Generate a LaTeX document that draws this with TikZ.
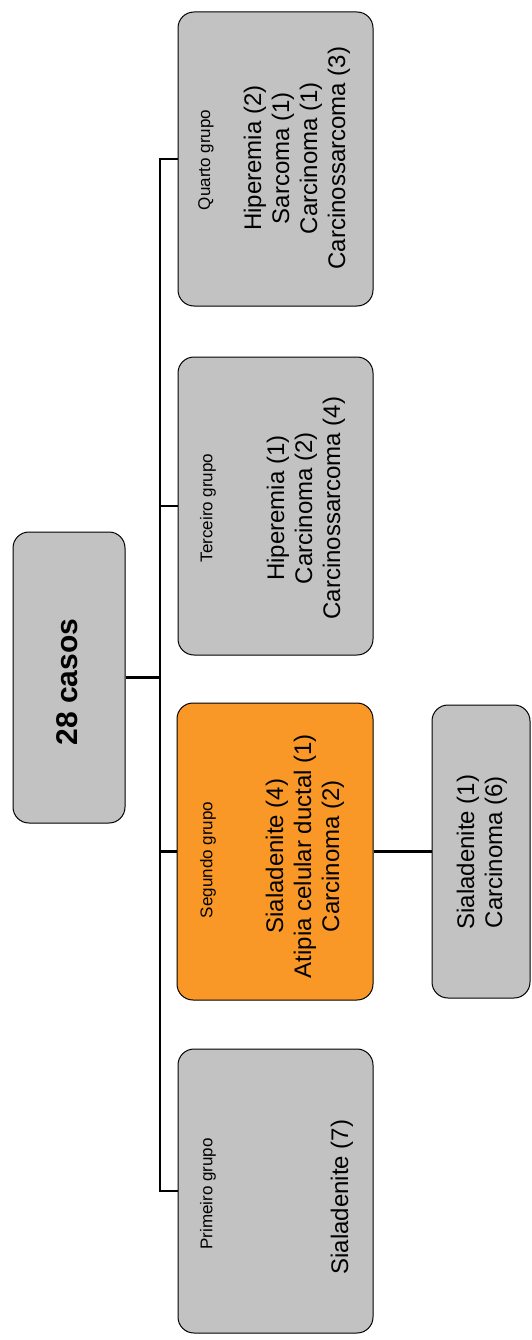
\documentclass[tikz,border=0pt]{standalone}
\usepackage{fontspec}
\setmainfont{Liberation Sans}
\definecolor{boxgray}{RGB}{194,194,194}
\definecolor{boxorange}{RGB}{249,152,38}
\tikzset{
  gbox/.style={draw=black, line width=1pt, fill=boxgray, rounded corners=16pt, inner sep=0pt},
  obox/.style={gbox, fill=boxorange},
  conn/.style={draw=black, line width=2.2pt},
  lbl/.style={rotate=90, inner sep=0pt, font=\fontsize{17}{20}\selectfont},
  mtxt/.style={rotate=90, inner sep=0pt, align=center, font=\fontsize{24}{28}\selectfont},
  ttl/.style={rotate=90, inner sep=0pt, font=\fontsize{30}{34}\selectfont\bfseries}
}
\begin{document}
\begin{tikzpicture}[x=1pt,y=-1pt]
\useasboundingbox (0,0) rectangle (532,1340);
% boxes
\node[gbox, minimum width=112pt, minimum height=291pt] (c) at (69,677.5) {};
\node[gbox, minimum width=195pt, minimum height=294pt] (q) at (275.5,159) {};
\node[gbox, minimum width=195pt, minimum height=298pt] (t) at (275.5,506) {};
\node[obox, minimum width=196pt, minimum height=297pt] (s) at (275,851.5) {};
\node[gbox, minimum width=195pt, minimum height=284pt] (p) at (275.5,1191) {};
\node[gbox, minimum width=98pt, minimum height=293pt] (ch) at (481,851.5) {};
% texts
\node[ttl] (ct) at (67,682) {28 casos};
\node[lbl] (ql) at (206,160) {Quarto grupo};
\node[mtxt] (qm) at (297,158) {Hiperemia (2)\\Sarcoma (1)\\Carcinoma (1)\\Carcinossarcoma (3)};
\node[lbl] (tl) at (208,508) {Terceiro grupo};
\node[mtxt] (tm) at (306,508) {Hiperemia (1)\\Carcinoma (2)\\Carcinossarcoma (4)};
\node[lbl] (sl) at (208,860) {Segundo grupo};
\node[mtxt] (sm) at (305,856) {Sialadenite (4)\\Atipia celular ductal (1)\\Carcinoma (2)};
\node[lbl] (pl) at (208,1194) {Primeiro grupo};
\node[mtxt] (pm) at (342,1197) {Sialadenite (7)};
\node[mtxt] (chm) at (482,852) {Sialadenite (1)\\Carcinoma (6)};
% connectors
\coordinate (tx) at (160,0);
\draw[conn] (q.west) -- (q.west -| tx) -- (p.west -| tx) -- (p.west);
\draw[conn] (t.west) -- (t.west -| tx);
\draw[conn] (s.west) -- (s.west -| tx);
\draw[conn] (c.east) -- (c.east -| tx);
\draw[conn] (s.east) -- (ch.west);
\end{tikzpicture}
\end{document}
